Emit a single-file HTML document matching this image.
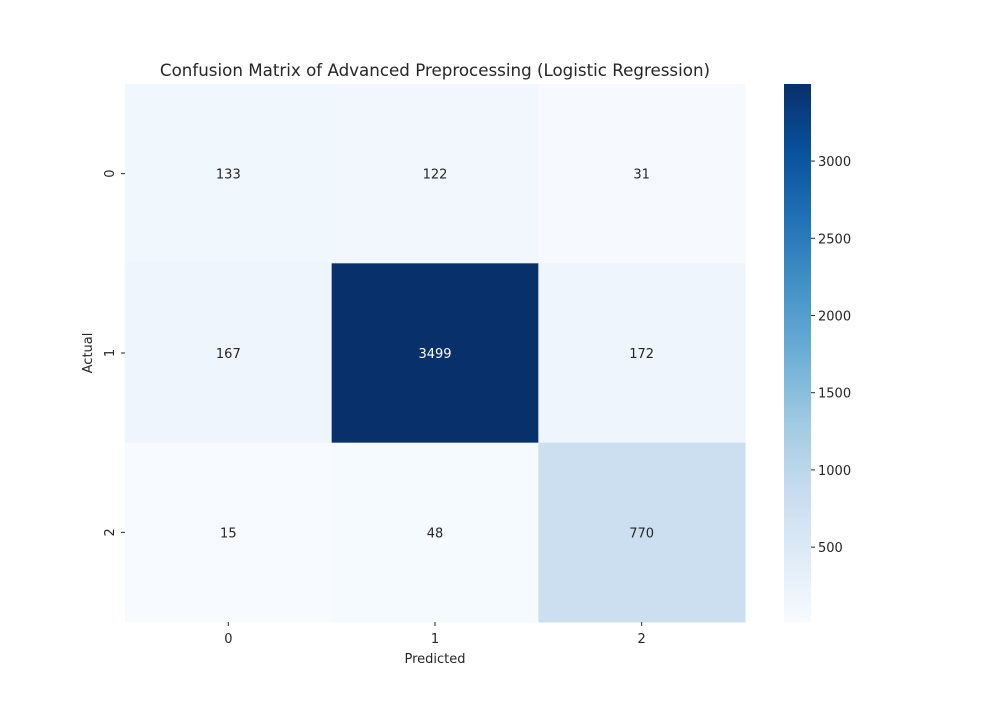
<!DOCTYPE html>
<html><head><meta charset="utf-8"><style>
body{margin:0;background:#fff}
svg text{font-family:"DejaVu Sans","Liberation Sans",sans-serif;fill:#262626}
</style></head><body>
<svg id="chart" width="1000" height="700" xmlns="http://www.w3.org/2000/svg">
<defs><linearGradient id="cb" x1="0" y1="1" x2="0" y2="0">
<stop offset="0" stop-color="#f7fbff"/><stop offset="0.125" stop-color="#deebf7"/><stop offset="0.25" stop-color="#c6dbef"/><stop offset="0.375" stop-color="#9ecae1"/><stop offset="0.5" stop-color="#6baed6"/><stop offset="0.625" stop-color="#4292c6"/><stop offset="0.75" stop-color="#2171b5"/><stop offset="0.875" stop-color="#08519c"/><stop offset="1" stop-color="#08306b"/>
</linearGradient></defs>
<text x="435" y="76" text-anchor="middle" font-size="16.7">Confusion Matrix of Advanced Preprocessing (Logistic Regression)</text>
<text x="435" y="663" text-anchor="middle" font-size="13">Predicted</text>
<text transform="translate(92,353) rotate(-90)" text-anchor="middle" font-size="13">Actual</text>
<g id="cells"></g>
<rect x="784" y="84" width="27" height="538" fill="url(#cb)"/>
<g id="cbticks"></g>
</svg>
<script>
const xLabels=["0","1","2"];
const yLabels=["0","1","2"];
const matrix=[[133,122,31],[167,3499,172],[15,48,770]];
const cbTicks=[500,1000,1500,2000,2500,3000];
const NS="http://www.w3.org/2000/svg";
const L=125,T=84,W=620,H=538;
const flat=matrix.flat(),vmin=Math.min(...flat),vmax=Math.max(...flat);
const stops=["#f7fbff","#deebf7","#c6dbef","#9ecae1","#6baed6","#4292c6","#2171b5","#08519c","#08306b"].map(h=>[1,3,5].map(i=>parseInt(h.substr(i,2),16)));
function color(v){let t=(v-vmin)/(vmax-vmin)*8;let i=Math.min(7,Math.floor(t)),f=t-i;const c=stops[i].map((a,k)=>Math.round(a+(stops[i+1][k]-a)*f));return c;}
const cw=W/xLabels.length,ch=H/yLabels.length;
const g=document.getElementById('cells');
function mk(tag,attrs,parent){const e=document.createElementNS(NS,tag);for(const k in attrs)e.setAttribute(k,attrs[k]);parent.appendChild(e);return e;}
matrix.forEach((row,r)=>row.forEach((v,c)=>{
const col=color(v);
const rect=mk('rect',{x:L+c*cw,y:T+r*ch,width:cw+0.5,height:ch+0.5,fill:`rgb(${col})`},g);


const lum=0.2126*(col[0]/255)+0.7152*(col[1]/255)+0.0722*(col[2]/255);
const t=mk('text',{x:L+(c+.5)*cw,y:T+(r+.5)*ch+5,'text-anchor':'middle','font-size':13},g);
t.style.fill=lum>0.408?'#262626':'#ffffff';
t.textContent=v;


}));
xLabels.forEach((s,i)=>{const x=L+(i+.5)*cw;
const tk=mk('line',{x1:x,x2:x,y1:T+H,y2:T+H+4,stroke:'#262626'},g);


const t=mk('text',{x:x,y:T+H+21,'text-anchor':'middle','font-size':13},g);t.textContent=s;

});
yLabels.forEach((s,i)=>{const y=T+(i+.5)*ch;
const tk=mk('line',{x1:L-4,x2:L,y1:y,y2:y,stroke:'#262626'},g);


const t=mk('text',{transform:`translate(${L-11},${y}) rotate(-90)`,'text-anchor':'middle','font-size':13},g);t.textContent=s;

});
const cg=document.getElementById('cbticks');
cbTicks.forEach(v=>{const y=T+H-(v-vmin)/(vmax-vmin)*H;
const tk=mk('line',{x1:811,x2:815,y1:y,y2:y,stroke:'#262626'},cg);


const t=mk('text',{x:818,y:y+5,'font-size':13},cg);t.textContent=v;

});
</script>
</body></html>
